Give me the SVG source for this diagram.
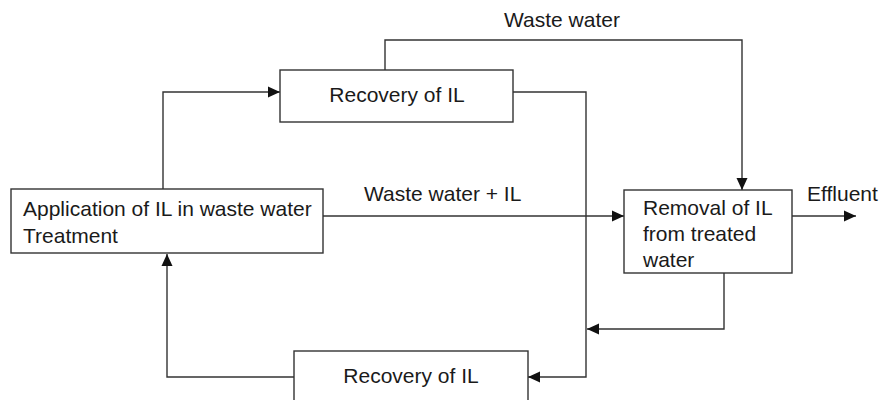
<svg xmlns="http://www.w3.org/2000/svg" width="879" height="400" viewBox="0 0 879 400">
<defs>
<style>
.box{fill:#fff;stroke:#333;stroke-width:1.4}
.ln{fill:none;stroke:#333;stroke-width:1.4}
text{font-family:"Liberation Sans",Arial,sans-serif;font-size:21px;fill:#1a1a1a}
</style>
<marker id="ah" viewBox="0 0 12 12" refX="12" refY="6" markerWidth="12" markerHeight="12" markerUnits="userSpaceOnUse" orient="auto">
<path d="M0,0.5 L12,6 L0,11.5 Z" fill="#111"/>
</marker>
</defs>
<rect width="879" height="400" fill="#fff"/>
<g id="connectors">
<path class="ln" d="M163,189 V92 H280" marker-end="url(#ah)"/>
<path class="ln" d="M385,70 V40 H742 V190" marker-end="url(#ah)"/>
<path class="ln" d="M323,216 H624" marker-end="url(#ah)"/>
<path class="ln" d="M792,216 H856" marker-end="url(#ah)"/>
<path class="ln" d="M513,92 H586 V377 H528" marker-end="url(#ah)"/>
<path class="ln" d="M724,273 V329 H587" marker-end="url(#ah)"/>
<path class="ln" d="M294,377 H167 V254" marker-end="url(#ah)"/>
<text x="504" y="27">Waste water</text>
<text x="364" y="201">Waste water + IL</text>
<text x="807" y="201">Effluent</text>
</g>
<g id="recovery-top">
<rect class="box" x="280" y="70" width="233" height="52"/>
<text x="397" y="102" text-anchor="middle">Recovery of IL</text>
</g>
<g id="application">
<rect class="box" x="11" y="189" width="312" height="64"/>
<text x="23" y="216">Application of IL in waste water</text>
<text x="23" y="243">Treatment</text>
</g>
<g id="removal">
<rect class="box" x="624" y="190" width="168" height="83"/>
<text x="643" y="215">Removal of IL</text>
<text x="643" y="241">from treated</text>
<text x="643" y="267">water</text>
</g>
<g id="recovery-bottom">
<rect class="box" x="294" y="351" width="234" height="60"/>
<text x="411" y="383" text-anchor="middle">Recovery of IL</text>
</g>
</svg>
